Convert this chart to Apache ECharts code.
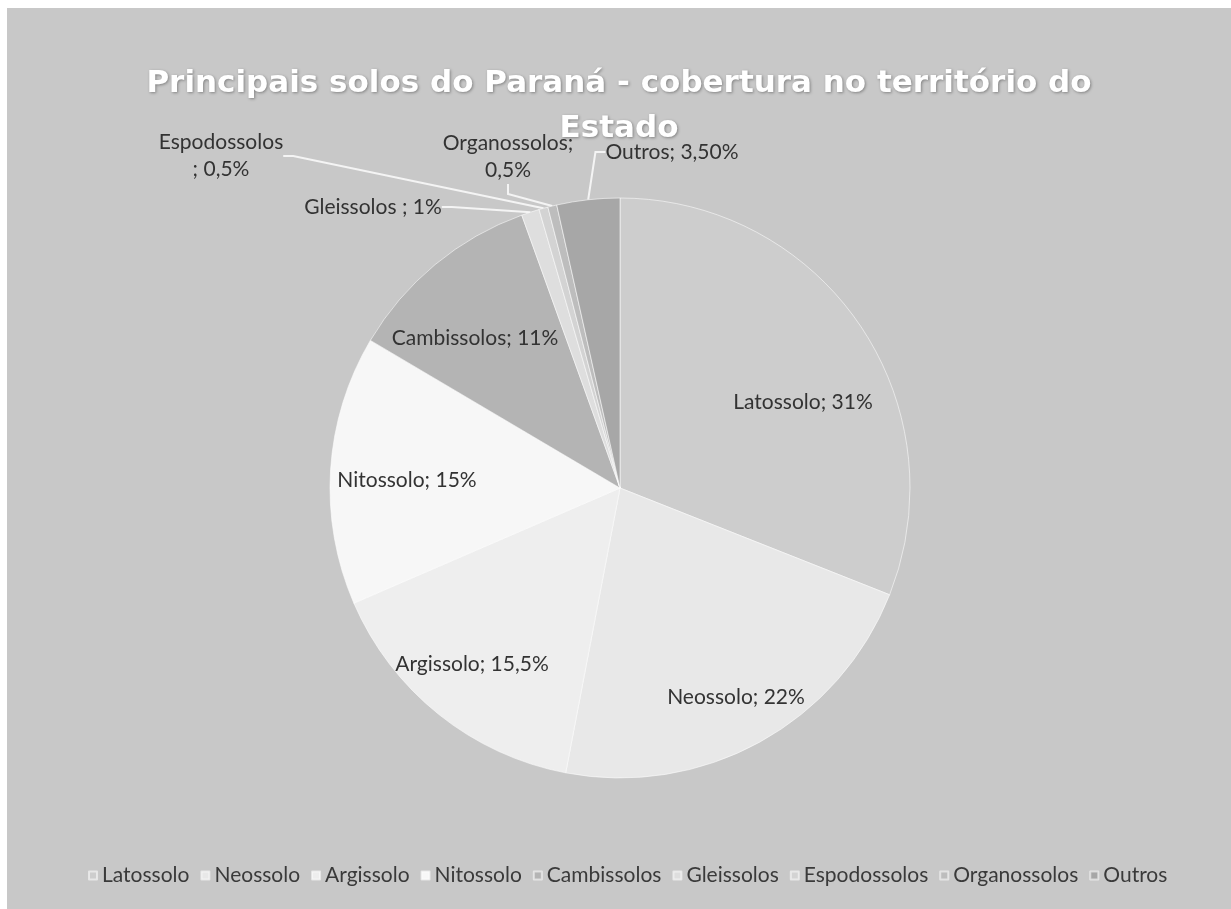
<!DOCTYPE html>
<html>
<head>
<meta charset="utf-8">
<script src="https://cdn.jsdelivr.net/npm/echarts@6/dist/echarts.min.js"></script>
<style>
  html, body { margin: 0; padding: 0; background: #ffffff; }
  #chart { position: absolute; left: 7px; top: 8px; width: 1224px; height: 901px; }
</style>
</head>
<body>
<div id="chart"></div>
<script>
// soil types, clockwise from 12 o'clock
const soils = ['Latossolo', 'Neossolo', 'Argissolo', 'Nitossolo', 'Cambissolos',
  'Gleissolos', 'Espodossolos', 'Organossolos', 'Outros'];
const shares = [31, 22, 15.5, 15, 11, 1, 0.5, 0.5, 3.5];
const labelTexts = ['Latossolo; 31%', 'Neossolo; 22%', 'Argissolo; 15,5%', 'Nitossolo; 15%',
  'Cambissolos; 11%', 'Gleissolos ; 1%', 'Espodossolos\n; 0,5%', 'Organossolos;\n0,5%', 'Outros; 3,50%'];
const sliceColors = ['#cdcdcd', '#e8e8e8', '#eeeeee', '#f7f7f7', '#b4b4b4',
  '#dedede', '#d3d3d3', '#bdbdbd', '#a7a7a7'];

// small slices: label outside with a leader line
const small = ['Gleissolos', 'Espodossolos', 'Organossolos', 'Outros'];

const pieCenter = [613, 480];
const pieRadius = 290;
// label centres, relative to the pie centre (as Excel placed them)
const labelOffsets = {
  'Latossolo': [183, -86],
  'Neossolo': [116, 209],
  'Argissolo': [-148, 176],
  'Nitossolo': [-213, -8],
  'Cambissolos': [-145, -150],
  'Gleissolos': [-247, -281],
  'Espodossolos': [-399, -332],
  'Organossolos': [-112, -331],
  'Outros': [52, -336]
};

const chart = echarts.init(document.getElementById('chart'));
const font = 'Lato, "Open Sans", sans-serif';

let data = soils.map((name, i) => {
  const isSmall = small.indexOf(name) >= 0;
  return {
    name: name,
    value: shares[i],
    itemStyle: { color: sliceColors[i] },
    label: { position: isSmall ? 'outside' : 'inside' },
    labelLine: { show: isSmall }
  };
});

let options = {
  backgroundColor: '#c8c8c8',
  title: {
    text: 'Principais solos do Paraná - cobertura no território do\nEstado',
    left: 'center',
    top: 48,
    textStyle: {
      color: '#ffffff',
      fontFamily: '"DejaVu Sans", sans-serif',
      fontWeight: 'bold',
      fontSize: 31,
      lineHeight: 45,
      textShadowColor: 'rgba(0,0,0,0.35)',
      textShadowBlur: 3,
      textShadowOffsetX: 1,
      textShadowOffsetY: 1
    }
  },
  legend: {
    top: 852,
    left: 76,
    icon: 'rect',
    itemWidth: 8,
    itemHeight: 8,
    itemGap: 11,
    data: soils,
    textStyle: { color: '#3a3a3a', fontFamily: font, fontSize: 21 }
  },
  series: [
    {
      type: 'pie',
      center: pieCenter,
      radius: [0, pieRadius],
      startAngle: 90,
      clockwise: true,
      animation: false,
      itemStyle: { borderColor: 'rgba(255,255,255,0.55)', borderWidth: 1 },
      label: {
        show: true,
        color: '#333333',
        fontFamily: font,
        fontSize: 21,
        lineHeight: 27,
        align: 'center',
        formatter: p => labelTexts[p.dataIndex]
      },
      labelLine: {
        length: 10,
        length2: 10,
        lineStyle: { color: '#f4f4f4', width: 2 }
      },
      labelLayout: params => {
        const off = labelOffsets[soils[params.dataIndex]];
        return {
          x: pieCenter[0] + off[0],
          y: pieCenter[1] + off[1],
          align: 'center',
          verticalAlign: 'middle'
        };
      },
      data: data
    }
  ]
};
chart.setOption(options);
</script>
</body>
</html>
